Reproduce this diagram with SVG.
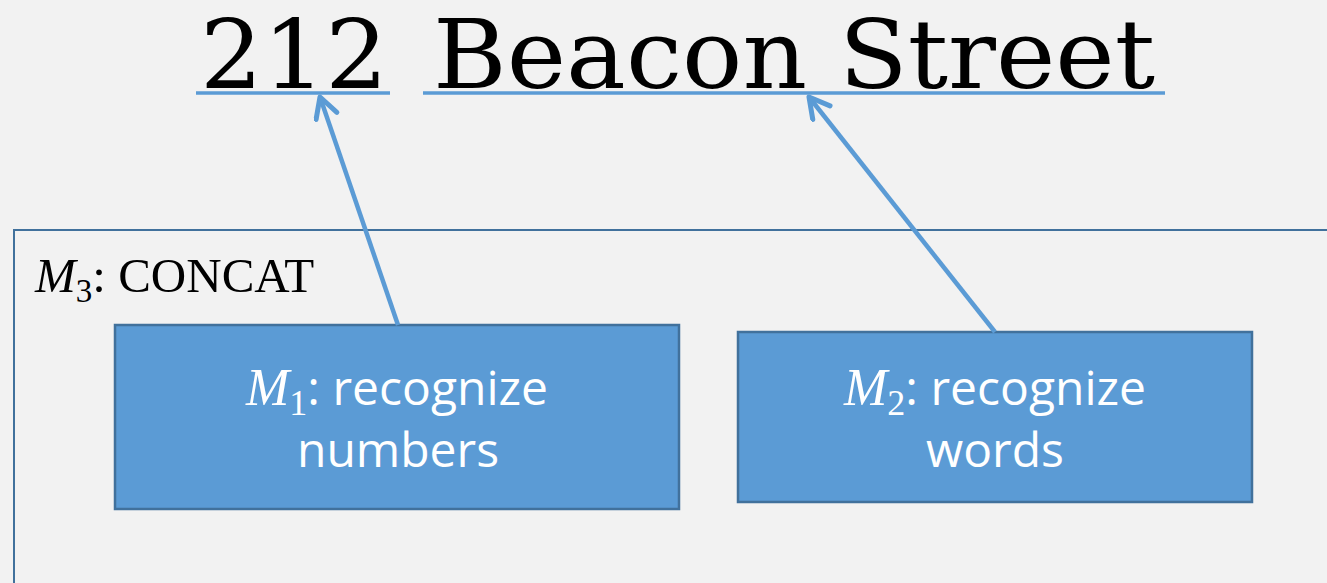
<svg xmlns="http://www.w3.org/2000/svg" width="1327" height="583" viewBox="0 0 1327 583">
  <defs>
    <style>
      .title { font-family: "DejaVu Serif", "Liberation Serif", serif; font-size: 96px; fill: #000; }
      .uline { stroke: #5b9bd5; stroke-width: 3.5; }
      .frame { fill: none; stroke: #41719c; stroke-width: 2; }
      .box { fill: #5b9bd5; stroke: #41719c; stroke-width: 2.5; }
      .lbl { font-family: "Open Sans", "Noto Sans", sans-serif; font-size: 48px; fill: #fff; }
      .mi { font-family: "Liberation Serif", serif; font-style: italic; }
      .sub { font-family: "Liberation Serif", serif; }
      .cap { font-family: "Liberation Serif", serif; font-size: 49px; fill: #000; }
      .conn { stroke: #5b9bd5; stroke-width: 4.5; fill: none; marker-end: url(#chev); }
    </style>
    <marker id="chev" markerUnits="userSpaceOnUse" markerWidth="40" markerHeight="40" refX="23" refY="13" orient="auto">
      <polyline points="3,2 23,13 3,24" fill="none" stroke="#5b9bd5" stroke-width="5" stroke-linecap="round" stroke-linejoin="round"/>
    </marker>
  </defs>

  <rect width="1327" height="583" fill="#f2f2f2"/>

  <!-- address heading with segment underlines -->
  <g id="address">
    <text class="title" x="200" y="88" textLength="188" lengthAdjust="spacingAndGlyphs">212</text>
    <text class="title" x="433" y="88" textLength="722" lengthAdjust="spacingAndGlyphs">Beacon Street</text>
    <line class="uline" x1="196" y1="93" x2="390" y2="93"/>
    <line class="uline" x1="423" y1="93" x2="1165" y2="93"/>
  </g>

  <!-- outer composite module -->
  <g id="m3">
    <rect class="frame" x="14" y="230" width="1330" height="380"/>
    <text class="cap" x="35" y="292"><tspan class="mi">M</tspan><tspan font-size="33" dy="10">3</tspan><tspan dy="-10">: CONCAT</tspan></text>
  </g>

  <g id="m1">
    <rect class="box" x="115" y="325" width="564" height="184"/>
    <text class="lbl" x="397" y="405" text-anchor="middle"><tspan class="mi" font-size="52">M</tspan><tspan class="sub" font-size="36" dy="10">1</tspan><tspan dy="-10">: recognize</tspan></text>
    <text class="lbl" x="398" y="467" text-anchor="middle">numbers</text>
  </g>

  <g id="m2">
    <rect class="box" x="738" y="332" width="514" height="170"/>
    <text class="lbl" x="995" y="405" text-anchor="middle"><tspan class="mi" font-size="52">M</tspan><tspan class="sub" font-size="36" dy="10">2</tspan><tspan dy="-10">: recognize</tspan></text>
    <text class="lbl" x="995" y="467" text-anchor="middle">words</text>
  </g>

  <g id="connectors">
    <line class="conn" x1="398" y1="325" x2="320" y2="97"/>
    <line class="conn" x1="995" y1="332" x2="809" y2="97"/>
  </g>
</svg>
